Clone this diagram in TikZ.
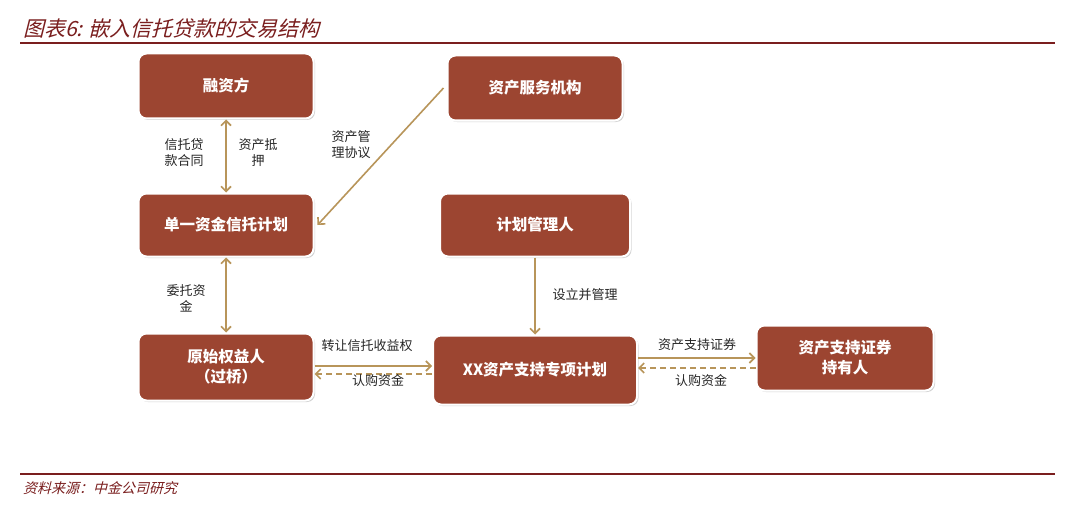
\documentclass[tikz,border=0pt]{standalone}
\usepackage{fontspec}
\newfontfamily\cjk{Noto Sans CJK SC}
\newfontfamily\cjkit[FakeSlant=0.25]{Noto Sans CJK SC}
\usetikzlibrary{arrows.meta,shadows}
\definecolor{boxred}{HTML}{9C4531}
\definecolor{arr}{HTML}{B8955A}
\definecolor{titlered}{HTML}{7A1E1E}
\begin{document}
\begin{tikzpicture}[x=1pt,y=-1pt,
  >={Straight Barb[length=5pt,width=10pt]},
  box/.style={draw=white,line width=2pt,fill=boxred,rounded corners=8pt,text=white,
    font=\cjk\bfseries\fontsize{15.5}{20}\selectfont,align=center,inner sep=0pt,
    drop shadow={shadow xshift=1.5pt,shadow yshift=-1.5pt,fill=black!35}},
  lab/.style={font=\cjk\fontsize{13}{16}\selectfont,text=black!85,align=center,inner sep=0pt},
  conn/.style={draw=arr,line width=1.6pt,->},
  dconn/.style={conn,dashed,dash pattern=on 6pt off 4pt}]
\useasboundingbox (0,0) rectangle (1080,511);
\fill[white] (0,0) rectangle (1080,511);
% title
\node[anchor=west,font=\cjkit\fontsize{21}{24}\selectfont,text=titlered,inner sep=0pt] (title) at (23,28) {图表6: 嵌入信托贷款的交易结构};
\draw[titlered,line width=1.5pt] (20,43) -- (1055,43);
\draw[titlered,line width=1.5pt] (20,474) -- (1055,474);
\node[anchor=west,font=\cjkit\fontsize{14}{16}\selectfont,text=titlered,inner sep=0pt] (src) at (23,488) {资料来源：中金公司研究};
% boxes
\node[box,minimum width=175pt,minimum height=65pt] (rzf) at (226,86) {融资方};
\node[box,minimum width=175pt,minimum height=65pt] (zcfw) at (535,88) {资产服务机构};
\node[box,minimum width=175pt,minimum height=63pt] (dyzj) at (226,225) {单一资金信托计划};
\node[box,minimum width=190pt,minimum height=63pt] (jhgl) at (535,225) {计划管理人};
\node[box,minimum width=175pt,minimum height=67pt] (yssy) at (226,367) {原始权益人\\（过桥）};
\node[box,minimum width=204pt,minimum height=69pt] (xx) at (535,370) {XX资产支持专项计划};
\node[box,minimum width=177pt,minimum height=65pt] (cyr) at (845,358) {资产支持证券\\持有人};
% connectors
\draw[conn,<->] (rzf.south) -- (dyzj.north);
\draw[conn,<->] (dyzj.south) -- (yssy.north);
\draw[conn] ([xshift=-3pt]zcfw.west) -- ([xshift=3pt]dyzj.east);
\draw[conn] (jhgl.south) -- (xx.north);
\draw[conn] (yssy.east |- 0,366) -- (xx.west |- 0,366);
\draw[dconn] (xx.west |- 0,374) -- (yssy.east |- 0,374);
\draw[conn] (xx.east |- 0,358) -- (cyr.west |- 0,358);
\draw[dconn] (cyr.west |- 0,368) -- (xx.east |- 0,368);
% labels
\node[lab] (l1) at (184,153) {信托贷\\款合同};
\node[lab] (l2) at (258,153) {资产抵\\押};
\node[lab] (l3) at (351,145) {资产管\\理协议};
\node[lab] (l4) at (186,298) {委托资\\金};
\node[lab] (l5) at (585,295) {设立并管理};
\node[lab] (l6) at (367,346) {转让信托收益权};
\node[lab] (l7) at (378,381) {认购资金};
\node[lab] (l8) at (697,345) {资产支持证券};
\node[lab] (l9) at (701,381) {认购资金};
\end{tikzpicture}
\end{document}
